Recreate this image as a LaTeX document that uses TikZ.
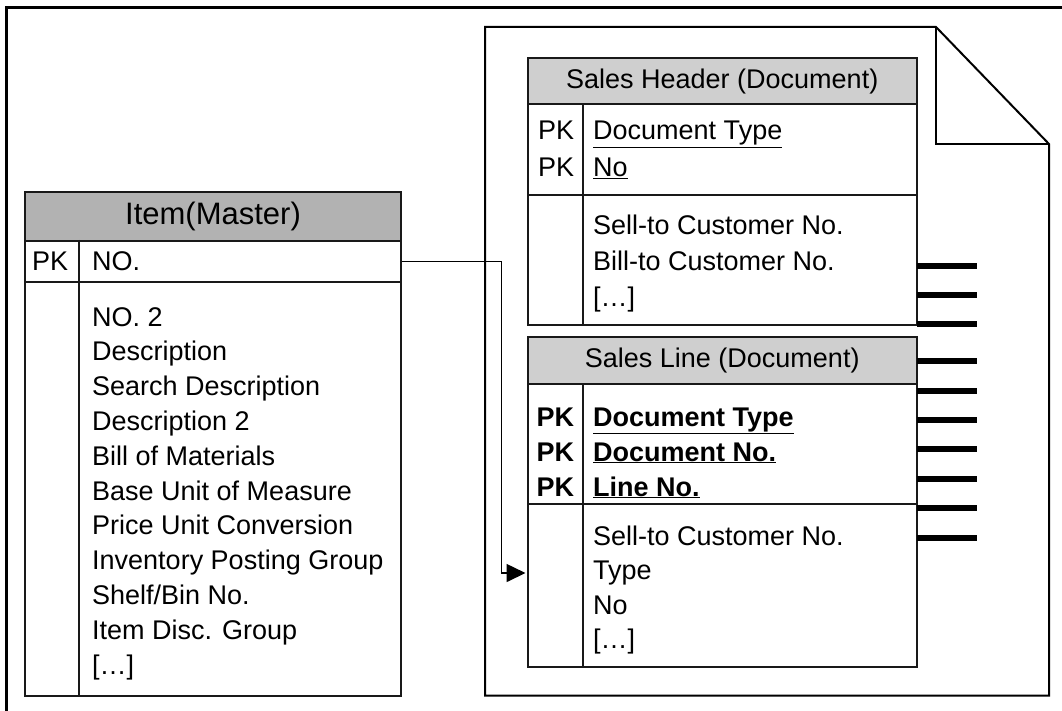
\documentclass[tikz,border=0pt]{standalone}
\usepackage{fontspec}
\setmainfont{Liberation Sans}
\usetikzlibrary{arrows.meta}
\definecolor{kopfgrau}{gray}{0.70}
\definecolor{dokgrau}{gray}{0.81}
\begin{document}
\begin{tikzpicture}[x=1pt, y=-1pt,
  every node/.style={font=\fontsize{27}{32}\selectfont, inner sep=0pt},
  tabbox/.style={draw=black!90, line width=2pt, anchor=north west},
  feld/.style={anchor=base west},
  trenn/.style={draw=black!90, line width=2pt},
  verbindung/.style={line width=1.6pt, shorten >=1.5pt, -{Triangle[length=19pt, width=18pt]}},
  balken/.style={line width=6pt}]
  % Hintergrund und Rahmen
  \fill[white] (0,0) rectangle (1062,711);
  \useasboundingbox (0,0) rectangle (1062,711);
  \draw[line width=3pt] (1062,7.5) -- (6,7.5) -- (6,711);
  % Dokument mit Eselsohr
  \draw[line width=2pt] (485,27) -- (936,27) -- (1049,144) -- (1049,695.5) -- (485,695.5) -- cycle;
  \draw[line width=2pt] (936,27) |- (1049,144);
  % Item (Master)
  \node[tabbox, fill=kopfgrau, minimum width=376pt, minimum height=49pt,
        font=\fontsize{31}{36}\selectfont] (itemkopf) at (24,191) {Item(Master)};
  \node[tabbox, minimum width=376pt, minimum height=41pt] (itemkey) at (24,240) {};
  \node[tabbox, minimum width=376pt, minimum height=414pt] (itembody) at (24,281) {};
  \draw[trenn] (79,240) -- (79,695);
  \node[feld] (itempk) at (32,270) {PK};
  \node[feld] (itemno) at (92,270) {NO.};
  \foreach \eintrag [count=\i] in {NO. 2, Description, Search Description, Description 2,
      Bill of Materials, Base Unit of Measure, Price Unit Conversion,
      Inventory Posting Group, Shelf/Bin No., Item Disc. Group, [\ldots]}{
    \node[feld] (item\i) at (92, {326+34.8*(\i-1)}) {\eintrag};
  }
  % Sales Header (Document)
  \node[tabbox, fill=dokgrau, minimum width=388.5pt, minimum height=46.5pt] (shkopf) at (527,57) {Sales Header (Document)};
  \node[tabbox, minimum width=388.5pt, minimum height=91pt] (shkey) at (527,103.5) {};
  \node[tabbox, minimum width=388.5pt, minimum height=129.5pt] (shbody) at (527,194.5) {};
  \draw[trenn] (582.7,103.5) -- (582.7,324);
  \foreach \eintrag [count=\i] in {Document Type, No}{
    \node[feld] (shpk\i) at (538, {140+37*(\i-1)}) {PK};
    \node[feld] (shkey\i) at (593, {140+37*(\i-1)}) {\underline{\eintrag}};
  }
  \foreach \eintrag [count=\i] in {Sell-to Customer No., Bill-to Customer No., [\ldots]}{
    \node[feld] (sh\i) at (593, {235+35.5*(\i-1)}) {\eintrag};
  }
  % Sales Line (Document)
  \node[tabbox, fill=dokgrau, minimum width=388.5pt, minimum height=47.5pt] (slkopf) at (527,335.5) {Sales Line (Document)};
  \node[tabbox, minimum width=388.5pt, minimum height=120pt] (slkey) at (527,383) {};
  \node[tabbox, minimum width=388.5pt, minimum height=163pt] (slbody) at (527,503) {};
  \draw[trenn] (582.7,383) -- (582.7,666);
  \foreach \eintrag [count=\i] in {Document Type, Document No., Line No.}{
    \node[feld] (slpk\i) at (536.5, {426+35*(\i-1)}) {\bfseries PK};
    \node[feld] (slkey\i) at (593, {426+35*(\i-1)}) {\bfseries\underline{\eintrag}};
  }
  \foreach \eintrag [count=\i] in {Sell-to Customer No., Type, No, [\ldots]}{
    \node[feld] (sl\i) at (593, {545+34.5*(\i-1)}) {\eintrag};
  }
  % Beziehung Item -> Sales Line
  \draw[verbindung] (itemkey.east) -- ++(99.3,0) |- (slbody.west |- sl2.west);
  % Balken rechts
  \foreach \y in {266,295,324,361,391,420,449,479,508,538}{
    \draw[balken] (916.5,\y) -- (977,\y);
  }
\end{tikzpicture}
\end{document}
